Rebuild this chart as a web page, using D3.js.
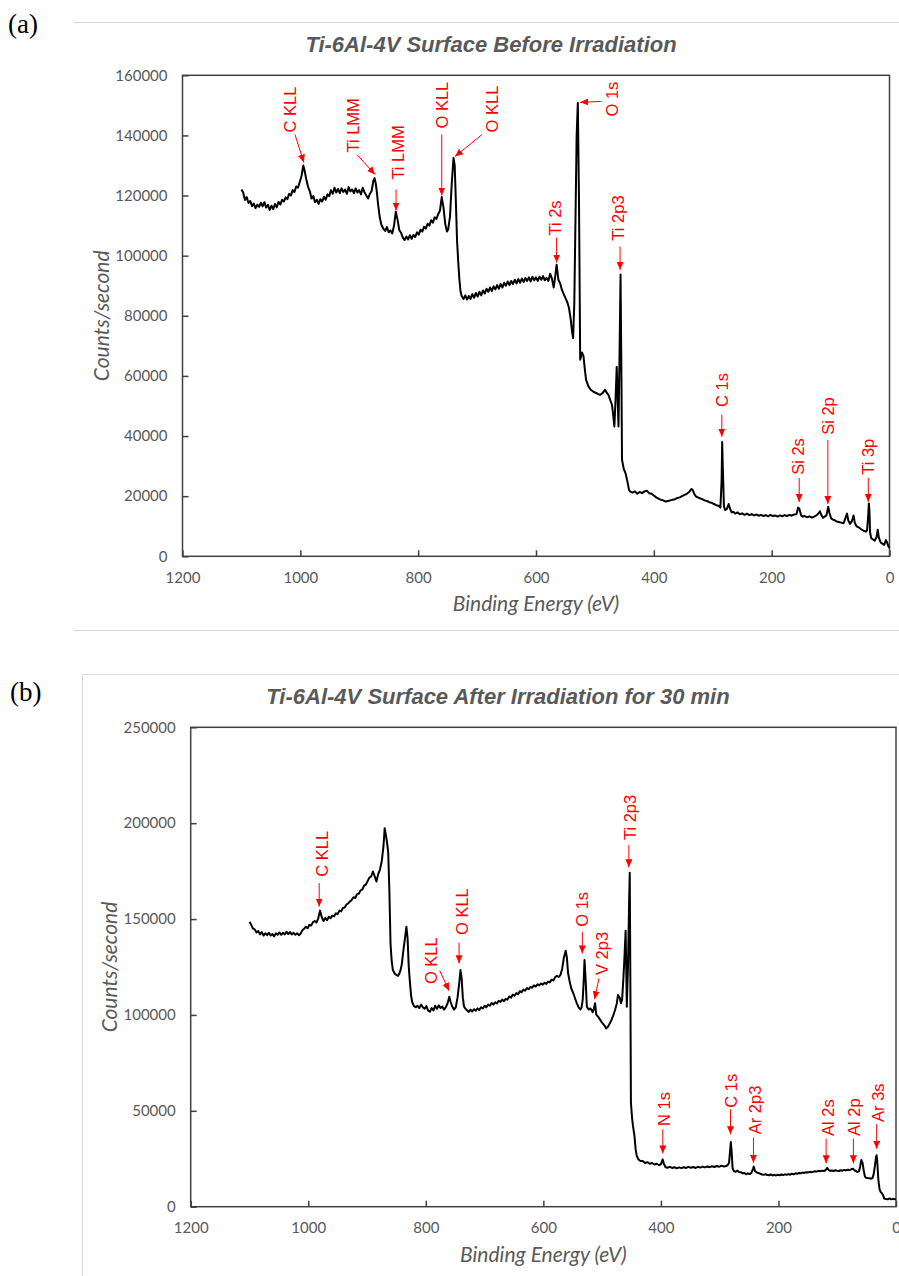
<!DOCTYPE html>
<html lang="en">
<head>
<meta charset="UTF-8">
<title>Ti-6Al-4V XPS survey spectra</title>
<script src="https://cdn.jsdelivr.net/npm/d3@7"></script>
<style>
  body { margin: 0; background: #fff; }
  svg { display: block; }
  .tick text { font-family: Lato, sans-serif; font-size: 15px; fill: #595959; }
  .tick line { stroke: #404040; stroke-width: 1.5px; }
  .frame { fill: none; stroke: #404040; stroke-width: 1.5px; }
  .spectrum { fill: none; stroke: #000; stroke-width: 2px; stroke-linejoin: round; }
  .note { font-family: "Liberation Sans", Arial, sans-serif; font-size: 16.5px; fill: #ff0000; }
  .note-line { stroke: #ff0000; stroke-width: 1px; }
  .chart-title { font-family: "Liberation Sans", Arial, sans-serif; font-weight: bold; font-style: italic; font-size: 22px; fill: #595959; }
  .axis-title { font-family: Lato, sans-serif; font-style: italic; font-size: 21px; fill: #595959; }
  .panel-tag { font-family: "Liberation Serif", "Times New Roman", serif; font-size: 27px; fill: #000; }
  .chart-border { stroke: #d9d9d9; stroke-width: 1px; fill: none; }
</style>
</head>
<body>
<script>
// tick labels
const energyTicks = [1200, 1000, 800, 600, 400, 200, 0];
const countTicksA = [0, 20000, 40000, 60000, 80000, 100000, 120000, 140000, 160000];
const countTicksB = [0, 50000, 100000, 150000, 200000, 250000];

// (a) survey before irradiation: [binding energy eV, counts/s]
const spectrumA = [
  [1100,122000],[1097,121000],[1094,118500],[1091,119500],[1088,117500],[1085,118200],[1082,116500],[1079,117300],
  [1076,115800],[1073,117000],[1070,116200],[1067,117600],[1064,116400],[1061,117800],[1058,116000],[1055,116900],
  [1052,115200],[1049,116600],[1046,115500],[1043,117200],[1040,116100],[1037,117900],[1034,117000],[1031,118600],
  [1028,118000],[1025,119400],[1022,118800],[1019,120600],[1016,120000],[1013,121800],[1010,121200],[1007,123000],
  [1004,122600],[1001,124500],[998,126500],[995,130000],[993,128500],[990,125500],[987,123000],[984,121500],
  [981,119000],[978,119800],[975,117800],[972,118600],[969,117200],[966,118800],[963,118000],[960,119600],
  [957,118600],[954,120400],[951,119800],[948,121800],[945,120600],[942,122600],[939,121000],[936,122200],
  [933,120800],[930,122400],[927,121200],[924,122000],[921,120600],[918,122800],[915,121400],[912,122000],
  [909,120800],[906,122400],[903,121000],[900,121800],[897,120400],[894,122600],[891,121000],[888,120000],
  [885,119000],[882,120600],[879,121500],[876,125000],[874,125800],[872,124000],[870,121000],[868,117000],
  [865,112500],[862,110000],[859,109000],[856,108200],[853,109500],[850,107800],[847,108400],[844,107400],
  [841,110000],[838,114600],[835,112000],[832,108500],[829,107600],[826,106000],[823,105200],[820,106400],
  [817,105400],[814,106800],[811,105600],[808,106900],[805,106200],[802,107800],[799,107000],[796,108600],
  [793,108000],[790,109600],[787,109000],[784,110600],[781,110000],[778,111800],[775,111000],[772,112800],
  [769,112200],[766,113800],[763,115000],[760,119500],[757,116000],[754,110500],[751,108000],[749,108800],
  [746,113000],[743,124000],[740,132500],[738,130000],[736,118000],[734,105000],[732,98000],[730,92000],
  [728,88000],[726,86500],[723,85600],[720,86800],[717,85400],[714,86600],[711,85600],[708,87200],
  [705,86000],[702,87600],[699,86400],[696,88000],[693,86800],[690,88400],[687,87400],[684,89000],
  [681,88000],[678,89400],[675,88200],[672,89800],[669,88800],[666,90200],[663,89000],[660,90600],
  [657,89400],[654,91000],[651,90000],[648,91400],[645,90200],[642,91600],[639,90600],[636,92000],
  [633,90800],[630,92200],[627,91000],[624,92400],[621,91200],[618,92600],[615,91600],[612,92800],
  [609,91400],[606,93000],[603,91800],[600,92800],[597,91600],[594,93000],[591,92000],[588,93200],
  [585,91800],[582,92600],[579,91600],[576,94000],[573,92400],[570,89400],[567,93600],[565,97000],
  [562,92000],[559,90800],[556,88600],[553,87200],[550,85900],[547,84600],[544,82600],[541,78700],
  [539,75000],[537,72600],[535,84000],[533,112000],[531,140000],[529,150800],[527,118000],[525,65400],
  [522,67800],[519.5,66700],[517,62000],[515,58700],[511,56500],[507,55400],[503,54800],[499,54400],
  [495,54000],[491,53700],[487,54300],[483,55400],[480,54400],[477,53700],[474,52000],[471,50400],
  [469,47000],[467,43200],[465,52000],[463,63000],[461,50000],[460,43200],[458,70000],[456.5,93700],
  [455,60000],[454,32100],[451,29000],[448,27600],[445,25000],[442,22000],[440,21500],[436,21200],
  [432,21600],[428,20800],[424,21400],[420,21000],[416,21600],[412,21800],[408,21000],[404,20800],
  [400,20200],[396,19600],[392,19200],[388,18800],[384,18600],[380,18200],[376,18400],[372,18600],
  [368,18800],[364,19000],[360,19400],[356,19600],[352,20000],[348,20400],[344,20800],[340,21400],
  [336,22400],[334,22000],[331,20600],[328,19800],[325,19600],[322,19300],[318,19000],[314,18600],
  [310,18400],[306,18000],[302,17800],[298,17400],[294,17000],[290,16800],[287,16200],[285,25000],
  [284,38000],[283,30000],[281,16600],[279,15400],[276,15800],[273,17400],[271,16000],[268,14600],
  [265,14800],[262,14200],[258,14600],[254,14000],[250,14300],[246,13800],[242,14200],[238,13700],
  [234,14000],[230,13600],[226,13900],[222,13500],[218,13800],[214,13400],[210,13700],[206,13300],
  [202,13800],[198,13400],[194,13600],[190,13200],[186,13600],[182,13300],[178,13700],[174,13400],
  [170,13800],[166,13500],[162,13900],[158,14000],[155,16200],[153,15800],[150,13600],[147,13200],
  [144,13400],[140,13000],[136,13300],[132,12900],[128,13200],[124,13600],[120,14400],[118,15000],
  [116,13800],[113,12800],[110,13200],[107,13600],[104,16500],[102,14500],[99,12600],[96,12200],
  [93,12000],[90,11600],[86,11400],[82,11200],[78,11000],[75,12600],[72,14200],[70,12000],
  [67,10800],[64,11600],[61,13600],[59,11200],[56,10000],[52,9600],[48,9000],[44,8500],
  [40,8200],[38,8800],[36,14000],[35,17600],[34,15000],[33,8000],[31,6000],[28,5600],
  [25,5200],[22,6400],[20,8800],[18,6200],[15,4600],[12,4200],[9,3800],[6,5400],
  [4,4600],[2,3400],[0,2800]
];

// (b) survey after 30 min irradiation
const spectrumB = [
  [1100,148600],[1097,147000],[1094,145000],[1091,144600],[1088,143000],[1085,143800],[1082,142000],[1079,143200],
  [1076,141400],[1073,142600],[1070,141600],[1067,142800],[1064,141400],[1061,142200],[1058,141000],[1055,142600],
  [1052,141800],[1049,143000],[1046,141800],[1043,142800],[1040,142000],[1037,143400],[1034,142200],[1031,143200],
  [1028,142000],[1025,142800],[1022,141800],[1019,142600],[1016,141600],[1013,142400],[1010,144200],[1007,145000],
  [1004,146000],[1001,145200],[998,147000],[995,146600],[992,148400],[989,149000],[986,148200],[983,150400],
  [980,154400],[977,151000],[974,149000],[971,150600],[968,149400],[965,151200],[962,150400],[959,151800],
  [956,151400],[953,153000],[950,152600],[947,154400],[944,154000],[941,155800],[938,156000],[935,157600],
  [932,158200],[929,159200],[926,160000],[923,161400],[920,161000],[917,163000],[914,163200],[911,165000],
  [908,165400],[905,167400],[902,168000],[899,169800],[896,171600],[893,172200],[890,174800],[887,172400],
  [884,169600],[881,173400],[878,175800],[875,180000],[872,188000],[870,197300],[868,194000],[866,190000],
  [864,185000],[862,165000],[860,137000],[858,128000],[856,123400],[853,121600],[850,120800],[847,120400],
  [845,121600],[843,123400],[841,126000],[838,134000],[835,141000],[833,146000],[831,140000],[829,125200],
  [827,117000],[825,110000],[823,106500],[820,104600],[817,104000],[814,104800],[811,103600],[808,105400],
  [805,104000],[802,103200],[799,104600],[796,102200],[793,101700],[790,103600],[787,102400],[784,104800],
  [781,103200],[778,105000],[775,103600],[772,104400],[769,102800],[766,104000],[763,106000],[760,109500],
  [758,107000],[755,104400],[752,102800],[749,104000],[746,109000],[743,117000],[741,123400],[739,119000],
  [737,109000],[735,104400],[733,103400],[730,102400],[727,101600],[724,102800],[721,101800],[718,103000],
  [715,102200],[712,103400],[709,102600],[706,104000],[703,103400],[700,104800],[697,104000],[694,105400],
  [691,104800],[688,106200],[685,105400],[682,106600],[679,106000],[676,107400],[673,106800],[670,108000],
  [667,107200],[664,108400],[661,108000],[658,109600],[655,109000],[652,110600],[649,110000],[646,111400],
  [643,110800],[640,112400],[637,111800],[634,113200],[631,112600],[628,114000],[625,113400],[622,114600],
  [619,114200],[616,115400],[613,114800],[610,116000],[607,115400],[604,116400],[601,115800],[598,116800],
  [595,116200],[592,117400],[589,117000],[586,118400],[583,118000],[580,119600],[577,120400],[574,119800],
  [571,120800],[568,124000],[565,130000],[562,133500],[560,130000],[558,122000],[555,117000],[552,113400],
  [549,111300],[546,108600],[543,106000],[540,104000],[537,102900],[535,103800],[533,108000],[531,120000],
  [530,128600],[528,118000],[526,104300],[523,102800],[520,103400],[518,102600],[516,101400],[514,103000],
  [512,106100],[510,100200],[507,99100],[504,97800],[501,96400],[498,95200],[495,94000],[493,93000],
  [490,93800],[487,95600],[484,97400],[481,99800],[478,102600],[475,106000],[473,110400],[470,109000],
  [468,106100],[466,108000],[464,118000],[462,130000],[460,143900],[459,125000],[458,104300],[456,125000],
  [454,160000],[453,174200],[452,120000],[451,54200],[449,46000],[447.5,42100],[445,36900],[443,30000],
  [441,26400],[438,24600],[435,23800],[431,23800],[427,22800],[423,23200],[419,22400],[415,22800],
  [411,22000],[407,22400],[403,21600],[400,22200],[397,24700],[395,22400],[392,20600],[389,20300],
  [385,20800],[381,20200],[377,20600],[373,20000],[369,20500],[365,20100],[361,20600],[357,20200],
  [353,20800],[349,20300],[345,20700],[341,20200],[337,20800],[333,20400],[329,20900],[325,20500],
  [321,21000],[317,20600],[313,21100],[309,20700],[305,21200],[301,20800],[297,21400],[293,21000],
  [289,21200],[286,21800],[284,23000],[282,30000],[281,33700],[279.5,28000],[278,20000],[276,18600],
  [273,18200],[270,18800],[267,18100],[264,18000],[261,17400],[258,17600],[255,16900],[252,17400],
  [249,17000],[246,17600],[243,20000],[242,20900],[240,18600],[237,17800],[234,17600],[231,17200],
  [228,16800],[225,16600],[222,17000],[219,16500],[216,16400],[213,16800],[210,16300],[207,16600],
  [204,16300],[201,16700],[198,16400],[195,16800],[192,16500],[189,16900],[186,16600],[183,17000],
  [180,16700],[177,17200],[174,16900],[171,17400],[168,17200],[165,17600],[162,17400],[159,17800],
  [156,17600],[153,18000],[150,17800],[147,18200],[144,18000],[141,18200],[138,18500],[135,18300],
  [132,18700],[129,18500],[126,18800],[123,18600],[120,19000],[117,20300],[115,19200],[112,18700],
  [109,18900],[106,18600],[103,19000],[100,18700],[97,18600],[94,19000],[91,18800],[88,19200],
  [85,18900],[82,19300],[79,19100],[76,19500],[73,19800],[71,19000],[68,18600],[66,18100],
  [63,18400],[61,21000],[59,24300],[57,23000],[55,19000],[53,15800],[51,15100],[48,14900],
  [45,14800],[42,14600],[40,15000],[38,17000],[36,21000],[34,25800],[33,26800],[32,24000],
  [30,14000],[28,9100],[26,7600],[24,7000],[22,6000],[20,4200],[17,4000],[14,3900],
  [11,4300],[8,3800],[5,4100],[2,3900],[0,3900]
];

// peak labels: text, arrow tip, arrow tail, text start (all eV / counts)
const peaksA = [
  {t: "C KLL",  tip: [994, 131000],   tail: [1009, 140300],  at: [1017, 141000]},
  {t: "Ti LMM", tip: [873.2, 127000], tail: [903.7, 133600], at: [910.5, 134300]},
  {t: "Ti LMM", tip: [837.5, 115000], tail: [837.5, 122000], at: [834, 125300]},
  {t: "O KLL",  tip: [760, 120000],   tail: [760, 140300],   at: [760, 142300]},
  {t: "O KLL",  tip: [737.4, 133000], tail: [691.5, 140300], at: [674.5, 141000]},
  {t: "O 1s",   tip: [525, 151000],   tail: [490, 151300],   at: [471, 146300]},
  {t: "Ti 2s",  tip: [565, 97700],    tail: [565, 106000],   at: [567.6, 106700]},
  {t: "Ti 2p3", tip: [457.3, 95300],  tail: [457.3, 103000], at: [460.6, 105000]},
  {t: "C 1s",   tip: [284.6, 39800],  tail: [284.6, 47100],  at: [284.6, 49700]},
  {t: "Si 2s",  tip: [153.3, 18100],  tail: [153.3, 26100],  at: [155, 27100]},
  {t: "Si 2p",  tip: [104.6, 17400],  tail: [104.6, 38700],  at: [104, 40400]},
  {t: "Ti 3p",  tip: [36, 18100],     tail: [36, 26100],     at: [36, 27100]}
];
const peaksB = [
  {t: "C KLL",  tip: [981.4, 156500], tail: [981.4, 168800], at: [977.3, 172100]},
  {t: "O KLL",  tip: [760.4, 112600], tail: [776.2, 123100], at: [790.3, 116100]},
  {t: "O KLL",  tip: [743.4, 126900], tail: [743.4, 137700], at: [737.7, 141700]},
  {t: "O 1s",   tip: [533.7, 132100], tail: [533.7, 143400], at: [533.7, 146000]},
  {t: "V 2p3",  tip: [512.8, 108200], tail: [505.4, 119100], at: [499.7, 120800]},
  {t: "Ti 2p3", tip: [454.5, 177000], tail: [454.5, 188600], at: [453.3, 191200]},
  {t: "N 1s",   tip: [396.7, 27800],  tail: [396.7, 40400],  at: [393.8, 42100]},
  {t: "C 1s",   tip: [281.6, 37800],  tail: [281.6, 50800],  at: [280.4, 51600]},
  {t: "Ar 2p3", tip: [242.5, 22900],  tail: [242.5, 36000],  at: [239.1, 37800]},
  {t: "Al 2s",  tip: [118.9, 22600],  tail: [118.9, 35500],  at: [116.2, 36900]},
  {t: "Al 2p",  tip: [72.5, 22600],   tail: [72.5, 35500],   at: [70.8, 36900]},
  {t: "Ar 3s",  tip: [32.9, 30200],   tail: [32.9, 43000],   at: [31.2, 44200]}
];

const W = 899, H = 1276;
const svg = d3.select('body').append('svg')
  .attr('width', W)
  .attr('height', H);

svg.append('defs').append('marker')
  .attr('id', 'arrowRed')
  .attr('markerUnits', 'userSpaceOnUse')
  .attr('markerWidth', 8).attr('markerHeight', 8)
  .attr('refX', 8).attr('refY', 3.5)
  .attr('orient', 'auto')
  .append('path')
  .attr('d', 'M0,0 L8,3.5 L0,7 Z')
  .attr('fill', '#ff0000');

function drawPanel(o) {
  const g = svg.append('g');
  const x = d3.scaleLinear().domain([1200, 0]).range([o.left, o.right]);
  const y = d3.scaleLinear().domain([0, o.yMax]).range([o.bottom, o.top]);

  // chart area border (Excel style)
  g.append('path').attr('class', 'chart-border').attr('d', o.border);

  g.append('text').attr('class', 'panel-tag')
    .attr('x', o.tagX).attr('y', o.tagY).text(o.tag);

  g.append('text').attr('class', 'chart-title')
    .attr('x', o.titleX).attr('y', o.titleY)
    .attr('text-anchor', 'middle').text(o.title);

  g.append('g')
    .attr('transform', `translate(0,${o.bottom})`)
    .call(d3.axisBottom(x).tickValues(energyTicks).tickFormat(d3.format('d'))
      .tickSizeInner(-6).tickSizeOuter(0).tickPadding(16))
    .call(a => a.select('.domain').remove());

  g.append('g')
    .attr('transform', `translate(${o.left},0)`)
    .call(d3.axisLeft(y).tickValues(o.yTicks).tickFormat(d3.format('d'))
      .tickSizeInner(-6).tickSizeOuter(0).tickPadding(15))
    .call(a => a.select('.domain').remove());

  g.append('rect').attr('class', 'frame')
    .attr('x', o.left).attr('y', o.top)
    .attr('width', o.right - o.left).attr('height', o.bottom - o.top);

  const line = d3.line().x(d => x(d[0])).y(d => y(d[1]));
  g.append('path').datum(o.data).attr('class', 'spectrum').attr('d', line);

  g.selectAll('line.note-line').data(o.peaks).enter()
    .append('line').attr('class', 'note-line')
    .attr('x1', d => x(d.tail[0])).attr('y1', d => y(d.tail[1]))
    .attr('x2', d => x(d.tip[0])).attr('y2', d => y(d.tip[1]))
    .attr('marker-end', 'url(#arrowRed)');

  g.selectAll('text.note').data(o.peaks).enter()
    .append('text').attr('class', 'note')
    .attr('transform', d => `translate(${x(d.at[0])},${y(d.at[1])}) rotate(-90)`)
    .attr('dy', '0.36em')
    .text(d => d.t);

  g.append('text').attr('class', 'axis-title')
    .attr('x', (o.left + o.right) / 2).attr('y', o.bottom + 55)
    .attr('text-anchor', 'middle').text('Binding  Energy (eV)');

  g.append('text').attr('class', 'axis-title')
    .attr('transform', `translate(${o.yTitleX},${(o.top + o.bottom) / 2}) rotate(-90)`)
    .attr('text-anchor', 'middle').attr('dy', '0.36em')
    .text('Counts/second');
}

drawPanel({
  tag: '(a)', tagX: 8, tagY: 33,
  title: 'Ti-6Al-4V Surface Before Irradiation', titleX: 491, titleY: 52,
  border: 'M74,22.5 H899 M74,630.5 H899',
  left: 182.5, right: 889.5, top: 75.3, bottom: 556.3,
  yMax: 160000, yTicks: countTicksA, yTitleX: 101,
  data: spectrumA, peaks: peaksA
});

drawPanel({
  tag: '(b)', tagX: 10, tagY: 701,
  title: 'Ti-6Al-4V Surface After Irradiation for 30 min', titleX: 498, titleY: 704,
  border: 'M82.5,1276 V674.5 H899',
  left: 190.7, right: 896, top: 727.3, bottom: 1206.7,
  yMax: 250000, yTicks: countTicksB, yTitleX: 109,
  data: spectrumB, peaks: peaksB
});
</script>
</body>
</html>
